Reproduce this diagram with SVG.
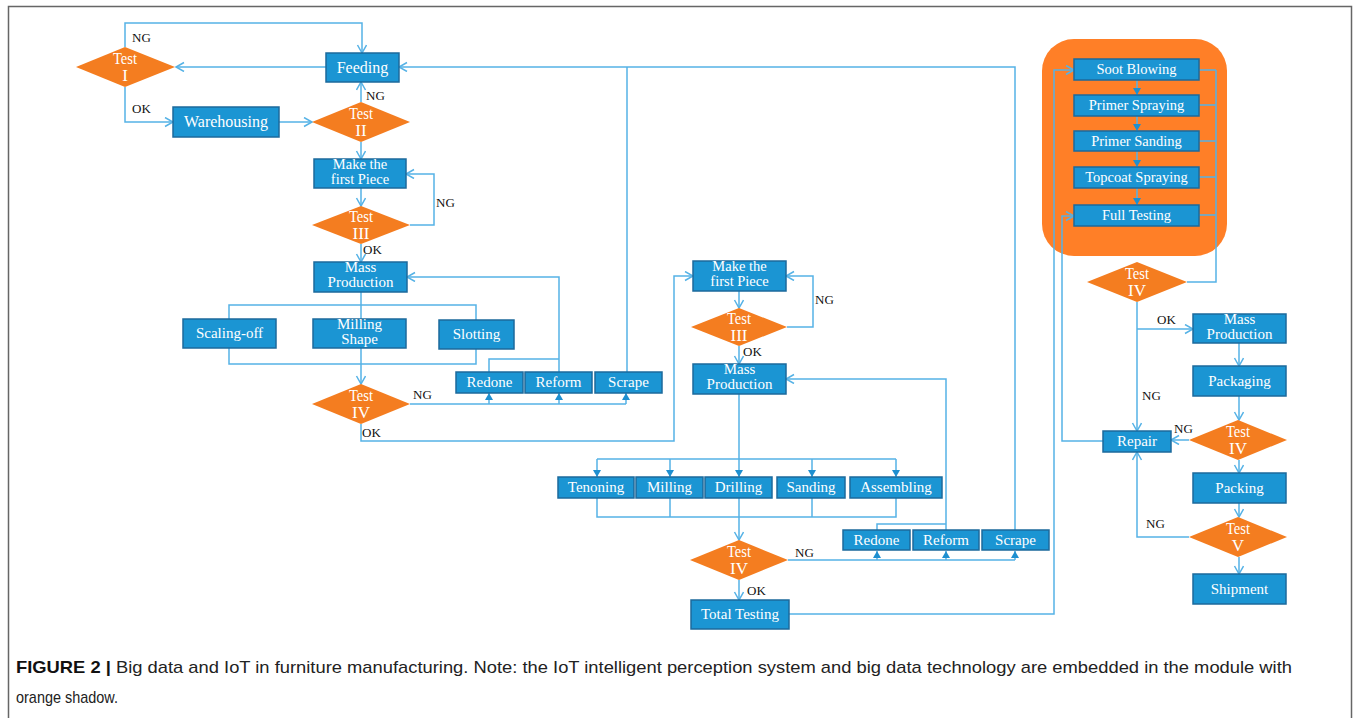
<svg xmlns="http://www.w3.org/2000/svg" width="1354" height="718" viewBox="0 0 1354 718">
<style>
.box{fill:#1B95D3;stroke:#1C6A9C;stroke-width:1.5}
.dia{fill:#F47D20}
.ln{fill:none;stroke:#55B2E6;stroke-width:1.5}
.arr{marker-end:url(#open)}
.farr{marker-end:url(#fill)}
.t{font-family:"Liberation Serif",serif;fill:#fff;font-size:15px;text-anchor:middle}
.d{font-family:"Liberation Serif",serif;fill:#fff;font-size:17px;text-anchor:middle}
.lbl{font-family:"Liberation Serif",serif;font-size:13px;fill:#111}
.cap{font-family:"Liberation Sans",Arial,sans-serif;font-size:17px;fill:#222}
</style>
<defs>
<marker id="open" markerWidth="12" markerHeight="12" refX="9" refY="5" orient="auto" markerUnits="userSpaceOnUse"><path d="M1,0.5 L9,5 L1,9.5" fill="none" stroke="#55B2E6" stroke-width="1.5"/></marker>
<marker id="fill" markerWidth="9" markerHeight="9" refX="7" refY="4" orient="auto" markerUnits="userSpaceOnUse"><path d="M0,0 L7,4 L0,8 z" fill="#1E8FD0"/></marker>
</defs>
<rect x="8.5" y="6.5" width="1343" height="800" fill="#fff" stroke="#666" stroke-width="1.5"/>
<rect id="orange-shadow" x="1042" y="39" width="185" height="217" rx="32" fill="#FF7F27"/>

<g id="connectors">
<path class="ln arr" d="M125,47 V23 H362 V53"/>
<path class="ln arr" d="M326,67 H176"/>
<path class="ln arr" d="M125,87 V122 H173"/>
<path class="ln arr" d="M279,122 H312"/>
<path class="ln arr" d="M361,102 V82"/>
<path class="ln arr" d="M361,142 V159"/>
<path class="ln arr" d="M361,188 V206"/>
<path class="ln arr" d="M410,225 H434 V174 H406"/>
<path class="ln arr" d="M361,244 V262"/>
<path class="ln" d="M361,292 V319 M229,319 V305 H476 V320"/>
<path class="ln" d="M229,348 V364 H476 V349"/>
<path class="ln arr" d="M361,348 V384"/>
<path class="ln" d="M410,404 H626"/>
<path class="ln farr" d="M489,404 V393"/>
<path class="ln farr" d="M559,404 V393"/>
<path class="ln farr" d="M626,404 V393"/>
<path class="ln" d="M489,372 V359 H559"/>
<path class="ln arr" d="M559,372 V277 H407"/>
<path class="ln" d="M627,372 V67"/>
<path class="ln arr" d="M1015,530 V67 H399"/>
<path class="ln arr" d="M361,424 V441 H674 V276 H693"/>
<path class="ln arr" d="M739,291 V308"/>
<path class="ln arr" d="M787,327 H813 V276 H786"/>
<path class="ln arr" d="M739,346 V364"/>
<path class="ln" d="M739,394 V459 M597,459 H896"/>
<path class="ln farr" d="M597,459 V477"/>
<path class="ln farr" d="M670,459 V477"/>
<path class="ln farr" d="M739,459 V477"/>
<path class="ln farr" d="M812,459 V477"/>
<path class="ln farr" d="M896,459 V477"/>
<path class="ln" d="M597,498 V517 H896 V498 M670,498 V517 M812,498 V517"/>
<path class="ln arr" d="M739,498 V540"/>
<path class="ln" d="M788,560 H1015"/>
<path class="ln farr" d="M877,560 V551"/>
<path class="ln farr" d="M946,560 V551"/>
<path class="ln farr" d="M1015,560 V551"/>
<path class="ln" d="M877,530 V524 H946"/>
<path class="ln arr" d="M946,530 V379 H786"/>
<path class="ln arr" d="M739,580 V600"/>
<path class="ln arr" d="M789,614 H1054 V70 H1074"/>
<path class="ln farr" d="M1137,80 V95"/>
<path class="ln farr" d="M1137,116 V131"/>
<path class="ln farr" d="M1137,151 V167"/>
<path class="ln farr" d="M1137,188 V205"/>
<path class="ln" d="M1199,70 H1216 M1199,105 H1216 M1199,141 H1216 M1199,177 H1216 M1199,215 H1216 M1216,70 V282 H1187"/>
<path class="ln arr" d="M1137,302 V431"/>
<path class="ln arr" d="M1137,329 H1193"/>
<path class="ln arr" d="M1239,343 V366"/>
<path class="ln arr" d="M1239,396 V420"/>
<path class="ln arr" d="M1189,440 H1171"/>
<path class="ln arr" d="M1239,460 V473"/>
<path class="ln arr" d="M1239,503 V517"/>
<path class="ln arr" d="M1189,537 H1137 V452"/>
<path class="ln arr" d="M1239,557 V574"/>
<path class="ln arr" d="M1103,441 H1062 V216 H1074"/>
</g>

<g id="labels">
<text class="lbl" x="132" y="42">NG</text>
<text class="lbl" x="132" y="113">OK</text>
<text class="lbl" x="366" y="100">NG</text>
<text class="lbl" x="436" y="207">NG</text>
<text class="lbl" x="363" y="254">OK</text>
<text class="lbl" x="413" y="399">NG</text>
<text class="lbl" x="362" y="437">OK</text>
<text class="lbl" x="815" y="304">NG</text>
<text class="lbl" x="743" y="356">OK</text>
<text class="lbl" x="795" y="557">NG</text>
<text class="lbl" x="747" y="595">OK</text>
<text class="lbl" x="1157" y="324">OK</text>
<text class="lbl" x="1142" y="400">NG</text>
<text class="lbl" x="1174" y="433">NG</text>
<text class="lbl" x="1146" y="528">NG</text>
</g>

<g id="test1"><polygon class="dia" points="76,67 125,47 175,67 125,87"/><text class="d" x="125" y="64" textLength="24" lengthAdjust="spacingAndGlyphs">Test</text><text class="d" x="125" y="81">I</text></g>
<g id="feeding"><rect class="box" x="326" y="53" width="73" height="29"/><text class="t" style="font-size:16px" x="362.5" y="73">Feeding</text></g>
<g id="warehousing"><rect class="box" x="173" y="107" width="106" height="30"/><text class="t" style="font-size:16px" x="226" y="127">Warehousing</text></g>
<g id="test2"><polygon class="dia" points="312,122 361,102 410,122 361,142"/><text class="d" x="361" y="119" textLength="24" lengthAdjust="spacingAndGlyphs">Test</text><text class="d" x="361" y="136">II</text></g>
<g id="make1"><rect class="box" x="314" y="159" width="92" height="29"/><text class="t" style="font-size:14.5px" x="360" y="169">Make the</text><text class="t" style="font-size:14.5px" x="360" y="184">first Piece</text></g>
<g id="test3"><polygon class="dia" points="312,225 361,206 410,225 361,244"/><text class="d" x="361" y="222" textLength="24" lengthAdjust="spacingAndGlyphs">Test</text><text class="d" x="361" y="239">III</text></g>
<g id="mass1"><rect class="box" x="314" y="262" width="93" height="30"/><text class="t" x="360.5" y="272">Mass</text><text class="t" x="360.5" y="287">Production</text></g>
<g id="scaling"><rect class="box" x="183" y="319" width="93" height="29"/><text class="t" x="229.5" y="338">Scaling-off</text></g>
<g id="milling-shape"><rect class="box" x="313" y="319" width="93" height="29"/><text class="t" x="359.5" y="329">Milling</text><text class="t" x="359.5" y="344">Shape</text></g>
<g id="slotting"><rect class="box" x="439" y="320" width="75" height="29"/><text class="t" x="476.5" y="339">Slotting</text></g>
<g id="test4"><polygon class="dia" points="312,404 361,384 410,404 361,424"/><text class="d" x="361" y="401" textLength="24" lengthAdjust="spacingAndGlyphs">Test</text><text class="d" x="361" y="418">IV</text></g>
<g id="redone1"><rect class="box" x="456" y="372" width="67" height="21"/><text class="t" x="489.5" y="387">Redone</text></g>
<g id="reform1"><rect class="box" x="525" y="372" width="67" height="21"/><text class="t" x="558.5" y="387">Reform</text></g>
<g id="scrape1"><rect class="box" x="595" y="372" width="67" height="21"/><text class="t" x="628.5" y="387">Scrape</text></g>

<g id="make2"><rect class="box" x="693" y="261" width="93" height="30"/><text class="t" style="font-size:14.5px" x="739.5" y="271">Make the</text><text class="t" style="font-size:14.5px" x="739.5" y="286">first Piece</text></g>
<g id="test3b"><polygon class="dia" points="691,327 739,308 787,327 739,346"/><text class="d" x="739" y="324" textLength="24" lengthAdjust="spacingAndGlyphs">Test</text><text class="d" x="739" y="341">III</text></g>
<g id="mass2"><rect class="box" x="693" y="364" width="93" height="30"/><text class="t" x="739.5" y="374">Mass</text><text class="t" x="739.5" y="389">Production</text></g>
<g id="tenoning"><rect class="box" x="558" y="477" width="76" height="21"/><text class="t" x="596" y="492">Tenoning</text></g>
<g id="milling"><rect class="box" x="636" y="477" width="67" height="21"/><text class="t" x="669.5" y="492">Milling</text></g>
<g id="drilling"><rect class="box" x="705" y="477" width="67" height="21"/><text class="t" x="738.5" y="492">Drilling</text></g>
<g id="sanding"><rect class="box" x="777" y="477" width="68" height="21"/><text class="t" x="811" y="492">Sanding</text></g>
<g id="assembling"><rect class="box" x="850" y="477" width="92" height="21"/><text class="t" x="896" y="492">Assembling</text></g>
<g id="test4b"><polygon class="dia" points="690,560 739,540 788,560 739,580"/><text class="d" x="739" y="557" textLength="24" lengthAdjust="spacingAndGlyphs">Test</text><text class="d" x="739" y="574">IV</text></g>
<g id="redone2"><rect class="box" x="843" y="530" width="67" height="20"/><text class="t" x="876.5" y="545">Redone</text></g>
<g id="reform2"><rect class="box" x="913" y="530" width="66" height="20"/><text class="t" x="946" y="545">Reform</text></g>
<g id="scrape2"><rect class="box" x="982" y="530" width="67" height="20"/><text class="t" x="1015.5" y="545">Scrape</text></g>
<g id="total-testing"><rect class="box" x="691" y="600" width="98" height="29"/><text class="t" x="740" y="619">Total Testing</text></g>

<g id="soot"><rect class="box" x="1074" y="59" width="125" height="21"/><text class="t" style="font-size:14.5px" x="1136.5" y="74">Soot Blowing</text></g>
<g id="primer-spraying"><rect class="box" x="1074" y="95" width="125" height="21"/><text class="t" style="font-size:14.5px" x="1136.5" y="110">Primer Spraying</text></g>
<g id="primer-sanding"><rect class="box" x="1074" y="131" width="125" height="20"/><text class="t" style="font-size:14.5px" x="1136.5" y="146">Primer Sanding</text></g>
<g id="topcoat"><rect class="box" x="1074" y="167" width="125" height="21"/><text class="t" style="font-size:14.5px" x="1136.5" y="182">Topcoat Spraying</text></g>
<g id="full-testing"><rect class="box" x="1074" y="205" width="125" height="21"/><text class="t" style="font-size:14.5px" x="1136.5" y="220">Full Testing</text></g>
<g id="test4c"><polygon class="dia" points="1087,282 1137,262 1187,282 1137,302"/><text class="d" x="1137" y="279" textLength="24" lengthAdjust="spacingAndGlyphs">Test</text><text class="d" x="1137" y="296">IV</text></g>
<g id="mass3"><rect class="box" x="1193" y="314" width="93" height="29"/><text class="t" x="1239.5" y="324">Mass</text><text class="t" x="1239.5" y="339">Production</text></g>
<g id="packaging"><rect class="box" x="1193" y="366" width="93" height="30"/><text class="t" x="1239.5" y="386">Packaging</text></g>
<g id="test4d"><polygon class="dia" points="1189,440 1238,420 1287,440 1238,460"/><text class="d" x="1238" y="437" textLength="24" lengthAdjust="spacingAndGlyphs">Test</text><text class="d" x="1238" y="454">IV</text></g>
<g id="repair"><rect class="box" x="1103" y="431" width="68" height="21"/><text class="t" x="1137" y="446">Repair</text></g>
<g id="packing"><rect class="box" x="1193" y="473" width="93" height="30"/><text class="t" x="1239.5" y="493">Packing</text></g>
<g id="test5"><polygon class="dia" points="1189,537 1238,517 1287,537 1238,557"/><text class="d" x="1238" y="534" textLength="24" lengthAdjust="spacingAndGlyphs">Test</text><text class="d" x="1238" y="551">V</text></g>
<g id="shipment"><rect class="box" x="1193" y="574" width="93" height="30"/><text class="t" x="1239.5" y="594">Shipment</text></g>

<g id="caption">
<text class="cap" x="16" y="673" textLength="1276" lengthAdjust="spacingAndGlyphs"><tspan font-weight="bold" fill="#111">FIGURE 2 | </tspan>Big data and IoT in furniture manufacturing. Note: the IoT intelligent perception system and big data technology are embedded in the module with</text>
<text class="cap" x="16" y="703" textLength="102" lengthAdjust="spacingAndGlyphs">orange shadow.</text>
</g>
</svg>
